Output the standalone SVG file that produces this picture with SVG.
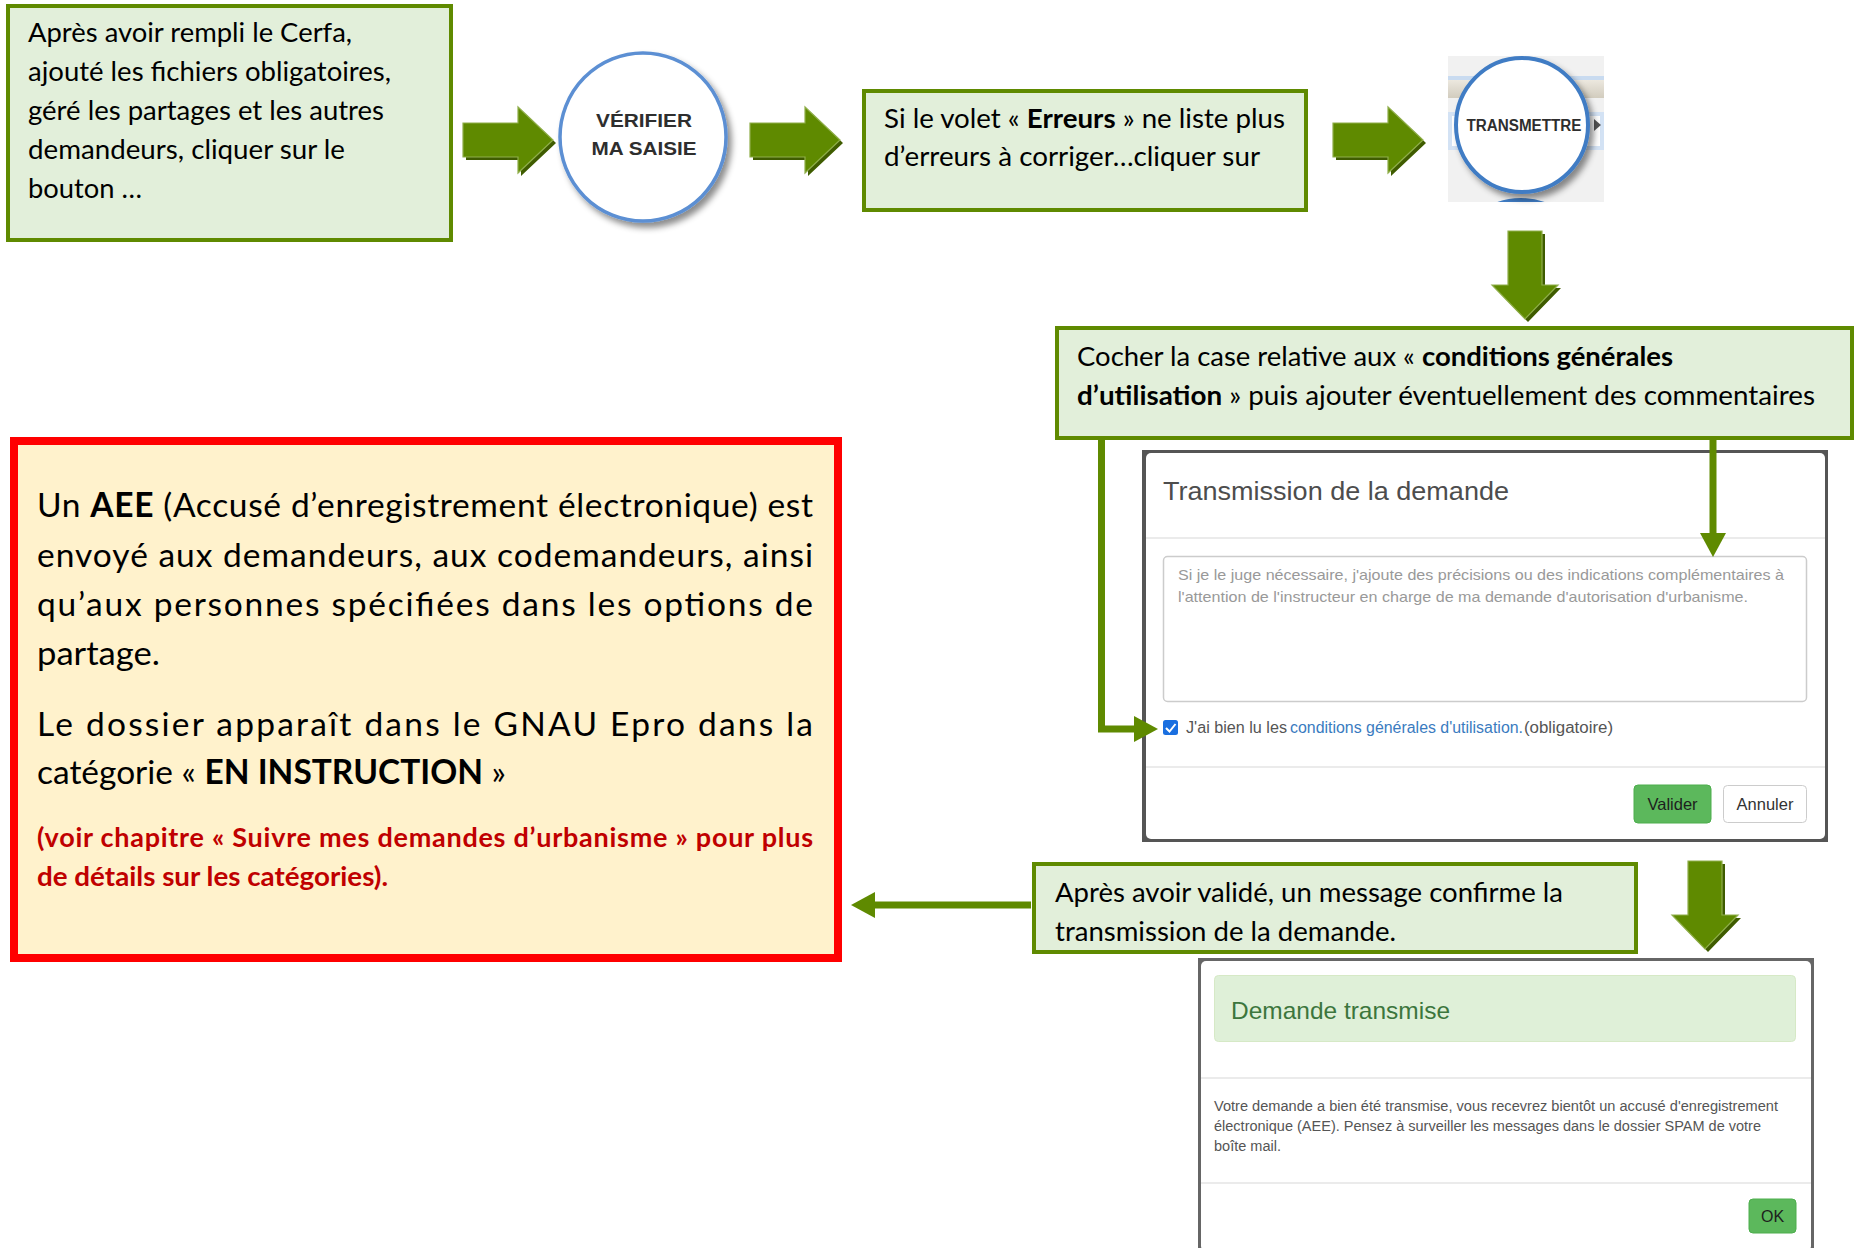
<svg xmlns="http://www.w3.org/2000/svg" width="1854" height="1248" viewBox="0 0 1854 1248">
<defs>
<style>
.box{fill:#e2efda;stroke:#5f8a00;stroke-width:4}
.t{font-family:Lato,"Noto Sans","Liberation Sans",sans-serif;font-size:26.5px;fill:#000}
.tl{font-family:Lato,"Noto Sans","Liberation Sans",sans-serif;font-size:33.5px;fill:#000}
.tr{font-family:Lato,"Noto Sans","Liberation Sans",sans-serif;font-size:27px;font-weight:bold;fill:#c00000}
.b{font-weight:bold}
.ui{font-family:"Liberation Sans",Arial,sans-serif}
.btn{font-family:"Liberation Sans",Arial,sans-serif;font-weight:bold;fill:#2e2e2e}
.conn{fill:none;stroke:#5f8a00;stroke-width:7;stroke-linejoin:miter}
.blk{fill:#5f8a00;stroke:#8fae4a;stroke-width:1.2}
.blks{fill:#3f5c00}
.sep{stroke:#e5e5e5;stroke-width:1.5}
</style>
<filter id="sh" x="-20%" y="-20%" width="150%" height="150%">
<feDropShadow dx="4" dy="5" stdDeviation="3" flood-color="#000" flood-opacity="0.45"/>
</filter>
<linearGradient id="tan" x1="0" y1="0" x2="0" y2="1">
<stop offset="0" stop-color="#ece8df"/><stop offset="1" stop-color="#d2ccbe"/>
</linearGradient>
<clipPath id="tclip"><rect x="1448" y="56" width="156" height="146"/></clipPath>
<path id="ra" d="M0,16H55V0L90,33L55,66V50H0Z"/>
<path id="da" d="M16,0H50V54H66L33,88L0,54H16Z"/>
<marker id="ah" markerUnits="userSpaceOnUse" markerWidth="24" markerHeight="26" refX="1" refY="13" orient="auto">
<path d="M0,0L24,13L0,26Z" fill="#5f8a00"/>
</marker>
</defs>
<rect x="0" y="0" width="1854" height="1248" fill="#ffffff"/>

<g id="step1-box">
<rect class="box" x="8" y="6" width="443" height="234"/>
<text class="t" x="28" y="42" textLength="324" lengthAdjust="spacingAndGlyphs">Après avoir rempli le Cerfa,</text>
<text class="t" x="28" y="81" textLength="363" lengthAdjust="spacingAndGlyphs">ajouté les fichiers obligatoires,</text>
<text class="t" x="28" y="120" textLength="356" lengthAdjust="spacingAndGlyphs">géré les partages et les autres</text>
<text class="t" x="28" y="159" textLength="317" lengthAdjust="spacingAndGlyphs">demandeurs, cliquer sur le</text>
<text class="t" x="28" y="198" textLength="114" lengthAdjust="spacingAndGlyphs">bouton …</text>
</g>

<g id="verifier-button">
<ellipse cx="643" cy="137" rx="83" ry="84" fill="#ffffff" stroke="#5b8fd3" stroke-width="3.5" filter="url(#sh)"/>
<text class="btn" x="644" y="127" font-size="18.5" text-anchor="middle" textLength="96" lengthAdjust="spacingAndGlyphs">VÉRIFIER</text>
<text class="btn" x="644" y="155" font-size="18.5" text-anchor="middle" textLength="105" lengthAdjust="spacingAndGlyphs">MA SAISIE</text>
</g>

<g id="step2-box">
<rect class="box" x="864" y="91" width="442" height="119"/>
<text class="t" x="884" y="128" textLength="401" lengthAdjust="spacingAndGlyphs">Si le volet « <tspan class="b">Erreurs</tspan> » ne liste plus</text>
<text class="t" x="884" y="166" textLength="376" lengthAdjust="spacingAndGlyphs">d’erreurs à corriger…cliquer sur</text>
</g>

<g id="transmettre-button">
<g clip-path="url(#tclip)">
<rect x="1448" y="56" width="156" height="146" fill="#f1f1f1"/>
<rect x="1448" y="76" width="156" height="4" fill="#c9dbf0"/>
<rect x="1448" y="80" width="156" height="18" fill="url(#tan)"/>
<rect x="1448" y="112" width="156" height="38" fill="#d3e2f4"/>
<rect x="1452" y="116" width="148" height="30" fill="#ffffff"/>
<path d="M1594,119L1601,125L1594,131Z" fill="#555555"/>
<ellipse cx="1521" cy="270" rx="68" ry="70" fill="#ffffff" stroke="#3f7cc4" stroke-width="4"/>
</g>
<ellipse cx="1522" cy="125" rx="66" ry="67" fill="#ffffff" stroke="#3f7cc4" stroke-width="4" filter="url(#sh)"/>
<text class="btn" x="1524" y="131" font-size="16" fill="#1e1e1e" text-anchor="middle" textLength="115" lengthAdjust="spacingAndGlyphs">TRANSMETTRE</text>
</g>

<g id="step3-box">
<rect class="box" x="1057" y="328" width="795" height="110"/>
<text class="t" x="1077" y="366" textLength="596" lengthAdjust="spacingAndGlyphs">Cocher la case relative aux « <tspan class="b">conditions générales</tspan></text>
<text class="t" x="1077" y="405" textLength="738" lengthAdjust="spacingAndGlyphs"><tspan class="b">d’utilisation</tspan> » puis ajouter éventuellement des commentaires</text>
</g>

<g id="transmission-dialog">
<rect x="1142" y="450" width="686" height="392" fill="#555555"/>
<rect x="1146" y="453" width="679" height="386" rx="5" fill="#ffffff"/>
<text class="ui" x="1163" y="500" font-size="25" fill="#4d4d4d" textLength="346" lengthAdjust="spacingAndGlyphs">Transmission de la demande</text>
<line class="sep" x1="1146" y1="538" x2="1825" y2="538"/>
<rect x="1163.5" y="556.5" width="643" height="145" rx="4" fill="#ffffff" stroke="#cccccc" stroke-width="1.5"/>
<text class="ui" x="1178" y="580" font-size="15" fill="#999999" textLength="606" lengthAdjust="spacingAndGlyphs">Si je le juge nécessaire, j'ajoute des précisions ou des indications complémentaires à</text>
<text class="ui" x="1178" y="602" font-size="15" fill="#999999" textLength="570" lengthAdjust="spacingAndGlyphs">l'attention de l'instructeur en charge de ma demande d'autorisation d'urbanisme.</text>
<rect x="1163" y="720" width="15" height="15" rx="2.5" fill="#1a6fe0"/>
<path d="M1166,728L1169.5,731.5L1175.5,724" fill="none" stroke="#ffffff" stroke-width="2"/>
<text class="ui" x="1186" y="733" font-size="16" fill="#555555" textLength="101" lengthAdjust="spacingAndGlyphs">J'ai bien lu les</text>
<text class="ui" x="1290" y="733" font-size="16" fill="#3a7bbf" textLength="233" lengthAdjust="spacingAndGlyphs">conditions générales d'utilisation.</text>
<text class="ui" x="1524" y="733" font-size="16" fill="#555555" textLength="89" lengthAdjust="spacingAndGlyphs">(obligatoire)</text>
<line class="sep" x1="1146" y1="767" x2="1825" y2="767"/>
<rect x="1634" y="785" width="77" height="38" rx="4" fill="#5cb85c" stroke="#4cae4c"/>
<text class="ui" x="1672.5" y="810" font-size="16.5" fill="#1e1e1e" text-anchor="middle">Valider</text>
<rect x="1723.5" y="785.5" width="83" height="37" rx="4" fill="#ffffff" stroke="#cccccc"/>
<text class="ui" x="1765" y="810" font-size="16.5" fill="#333333" text-anchor="middle">Annuler</text>
</g>

<g id="aee-box">
<rect x="14" y="441" width="824" height="517" fill="#fff2cc" stroke="#ff0000" stroke-width="8"/>
<text class="tl" x="37" y="517" textLength="776" lengthAdjust="spacing">Un <tspan class="b">AEE</tspan> (Accusé d’enregistrement électronique) est</text>
<text class="tl" x="37" y="567" textLength="776" lengthAdjust="spacing">envoyé aux demandeurs, aux codemandeurs, ainsi</text>
<text class="tl" x="37" y="616" textLength="776" lengthAdjust="spacing">qu’aux personnes spécifiées dans les options de</text>
<text class="tl" x="37" y="665" textLength="123" lengthAdjust="spacingAndGlyphs">partage.</text>
<text class="tl" x="37" y="736" textLength="776" lengthAdjust="spacing">Le dossier apparaît dans le GNAU Epro dans la</text>
<text class="tl" x="37" y="784" textLength="469" lengthAdjust="spacingAndGlyphs">catégorie « <tspan class="b">EN INSTRUCTION</tspan> »</text>
<text class="tr" x="37" y="847" textLength="776" lengthAdjust="spacing">(voir chapitre « Suivre mes demandes d’urbanisme » pour plus</text>
<text class="tr" x="37" y="886" textLength="351" lengthAdjust="spacingAndGlyphs">de détails sur les catégories).</text>
</g>

<g id="step4-box">
<rect class="box" x="1034" y="864" width="602" height="88"/>
<text class="t" x="1055" y="902" textLength="508" lengthAdjust="spacingAndGlyphs">Après avoir validé, un message confirme la</text>
<text class="t" x="1055" y="941" textLength="341" lengthAdjust="spacingAndGlyphs">transmission de la demande.</text>
</g>

<g id="confirmation-dialog">
<rect x="1198" y="958" width="616" height="292" fill="#666666"/>
<rect x="1201" y="961" width="610" height="290" rx="5" fill="#ffffff"/>
<rect x="1214.5" y="975.5" width="581" height="66" rx="4" fill="#dff0d8" stroke="#d6e9c6"/>
<text class="ui" x="1231" y="1019" font-size="24" fill="#3c763d" textLength="219" lengthAdjust="spacingAndGlyphs">Demande transmise</text>
<line class="sep" x1="1201" y1="1078" x2="1811" y2="1078"/>
<text class="ui" x="1214" y="1111" font-size="14" fill="#555555" textLength="564" lengthAdjust="spacingAndGlyphs">Votre demande a bien été transmise, vous recevrez bientôt un accusé d'enregistrement</text>
<text class="ui" x="1214" y="1131" font-size="14" fill="#555555" textLength="547" lengthAdjust="spacingAndGlyphs">électronique (AEE). Pensez à surveiller les messages dans le dossier SPAM de votre</text>
<text class="ui" x="1214" y="1151" font-size="14" fill="#555555" textLength="67" lengthAdjust="spacingAndGlyphs">boîte mail.</text>
<line class="sep" x1="1201" y1="1183" x2="1811" y2="1183"/>
<rect x="1749" y="1199" width="47" height="34" rx="4" fill="#5cb85c" stroke="#4cae4c"/>
<text class="ui" x="1772.5" y="1222" font-size="16" fill="#1e1e1e" text-anchor="middle">OK</text>
</g>

<g id="connectors">
<use href="#ra" class="blks" x="466" y="110"/>
<use href="#ra" class="blk" x="463" y="107"/>
<use href="#ra" class="blks" x="753" y="110"/>
<use href="#ra" class="blk" x="750" y="107"/>
<use href="#ra" class="blks" x="1336" y="110"/>
<use href="#ra" class="blk" x="1333" y="107"/>
<use href="#da" class="blks" x="1495" y="234"/>
<use href="#da" class="blk" x="1492" y="231"/>
<use href="#da" class="blks" x="1675" y="864"/>
<use href="#da" class="blk" x="1672" y="861"/>
<path class="conn" d="M1101.5,440V729H1135" marker-end="url(#ah)"/>
<path class="conn" d="M1713,440V534" marker-end="url(#ah)"/>
<path class="conn" d="M1031,905H874" stroke-width="8" marker-end="url(#ah)"/>
</g>
</svg>
